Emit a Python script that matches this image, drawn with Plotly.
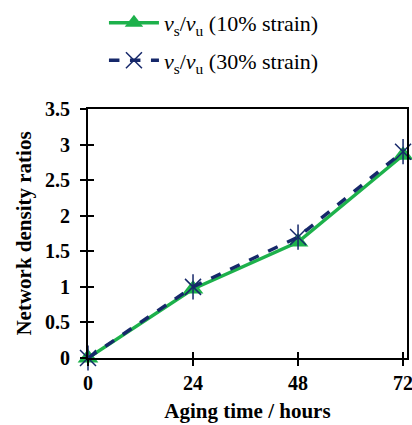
import plotly.graph_objects as go

hours = [0, 24, 48, 72]
ratio_10 = [0, 0.97, 1.63, 2.85]
ratio_30 = [0, 1.0, 1.7, 2.9]
x_ticks = [0, 24, 48, 72]
y_ticks = [0, 0.5, 1, 1.5, 2, 2.5, 3, 3.5]
y_tick_text = ["0", "0.5", "1", "1.5", "2", "2.5", "3", "3.5"]

GREEN = "#1db14b"
NAVY = "#16286a"
FONT = "Liberation Serif"
X_RANGE = [0, 72.9]

fig = go.Figure()
# invisible trace for inside ticks
fig.add_trace(go.Scatter(x=hours, y=ratio_30, mode="markers", xaxis="x2", yaxis="y2",
                         showlegend=False, marker=dict(opacity=0), hoverinfo="skip"))
fig.add_trace(go.Scatter(
    x=hours, y=ratio_10, mode="lines+markers", legendgroup="a", cliponaxis=False,
    name="<i>ν</i><sub>s</sub>/<i>ν</i><sub>u</sub> (10% strain)",
    line=dict(color=GREEN, width=3.5),
    marker=dict(symbol="triangle-up", size=18, color=GREEN),
))
fig.add_trace(go.Scatter(
    x=hours, y=ratio_30, mode="lines+markers", legendgroup="b", cliponaxis=False,
    name="<i>ν</i><sub>s</sub>/<i>ν</i><sub>u</sub> (30% strain)",
    line=dict(color=NAVY, width=3.5, dash="dash"),
    marker=dict(symbol="x-thin-open", size=16, color=NAVY, line=dict(color=NAVY, width=1.5)),
))
fig.add_trace(go.Scatter(
    x=hours, y=ratio_30, mode="markers", showlegend=False, legendgroup="b", cliponaxis=False,
    marker=dict(symbol="line-ns-open", size=18, color=NAVY, line=dict(color=NAVY, width=1.5)),
))

tickfont = dict(family=FONT, size=20, color="black", weight="bold")
fig.update_layout(
    width=412, height=425,
    margin=dict(l=88, r=5, t=109, b=67, autoexpand=False),
    paper_bgcolor="white", plot_bgcolor="white",
    font=dict(family=FONT, color="black"),
    showlegend=True,
    legend=dict(x=0.05, y=1.43, xanchor="left", yanchor="top",
                font=dict(family=FONT, size=22, color="black"),
                tracegroupgap=6, itemwidth=50, bgcolor="rgba(0,0,0,0)"),
    xaxis=dict(range=X_RANGE, tickvals=x_ticks, ticks="outside", ticklen=6, tickwidth=2,
               tickcolor="black", showline=True, linecolor="black", linewidth=2, mirror=True,
               showgrid=False, zeroline=False, tickfont=tickfont, domain=[0, 1],
               ticklabeloverflow="allow",
               title=dict(text="<b>Aging time / hours</b>", font=dict(family=FONT, size=21, color="black"), standoff=10)),
    yaxis=dict(range=[0, 3.5], tickvals=y_ticks, ticktext=y_tick_text, ticks="outside", ticklen=6,
               tickwidth=2, tickcolor="black", showline=True, linecolor="black", linewidth=2,
               mirror=True, showgrid=False, zeroline=False, tickfont=tickfont, domain=[0, 1],
               ticklabeloverflow="allow", ticklabelstandoff=6,
               title=dict(text="<b>Network density ratios</b>", font=dict(family=FONT, size=21, color="black"), standoff=8)),
    xaxis2=dict(range=X_RANGE, tickvals=x_ticks, ticks="inside", ticklen=6, tickwidth=2,
                tickcolor="black", showticklabels=False, overlaying="x", showgrid=False,
                zeroline=False, anchor="y2", domain=[0, 1]),
    yaxis2=dict(range=[0, 3.5], tickvals=y_ticks, ticks="inside", ticklen=6, tickwidth=2,
                tickcolor="black", showticklabels=False, overlaying="y", showgrid=False,
                zeroline=False, anchor="x2", domain=[0, 1]),
)
fig.write_html("out.html")
